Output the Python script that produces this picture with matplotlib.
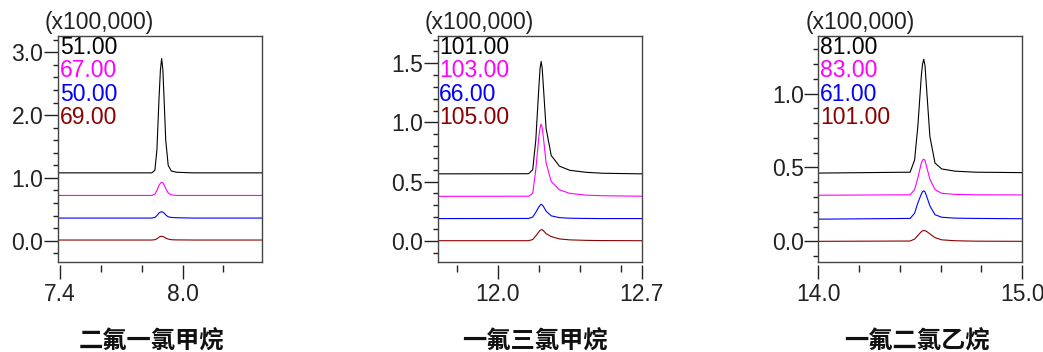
import numpy as np
import matplotlib
matplotlib.use("Agg")
import matplotlib.pyplot as plt
from matplotlib.ticker import FixedLocator, FormatStrFormatter

plt.rcParams['font.family'] = ['Liberation Sans', 'Noto Sans CJK SC', 'DejaVu Sans']

# ---- data (intensity in units of 100,000) ----
titles = ['二氟一氯甲烷', '一氟三氯甲烷', '一氟二氯乙烷']
ion_labels = [['51.00', '67.00', '50.00', '69.00'],
              ['101.00', '103.00', '66.00', '105.00'],
              ['81.00', '83.00', '61.00', '101.00']]
colors = ['black', '#ff00ff', '#0000ff', '#8b0000']

# panel 1
t1 = [7.39, 7.85, 7.865, 7.875, 7.885, 7.892, 7.898, 7.904, 7.910, 7.918, 7.93, 7.945, 7.97, 8.05, 8.39]
p1_black = [1.08, 1.08, 1.12, 1.45, 2.25, 2.72, 2.90, 2.72, 2.25, 1.60, 1.20, 1.11, 1.09, 1.08, 1.08]
p1_magenta = [0.72, 0.72, 0.74, 0.80, 0.88, 0.915, 0.93, 0.92, 0.89, 0.83, 0.76, 0.73, 0.72, 0.72, 0.72]
p1_blue = [0.36, 0.36, 0.37, 0.40, 0.44, 0.455, 0.46, 0.455, 0.44, 0.41, 0.38, 0.37, 0.365, 0.36, 0.36]
p1_red = [0.01, 0.01, 0.015, 0.03, 0.055, 0.066, 0.07, 0.066, 0.058, 0.04, 0.025, 0.015, 0.012, 0.01, 0.01]

# panel 2
t2 = [11.70, 12.15, 12.17, 12.185, 12.20, 12.206, 12.211, 12.216, 12.222, 12.235, 12.26, 12.30, 12.35, 12.43, 12.51, 12.70]
p2_black = [0.565, 0.566, 0.60, 0.85, 1.30, 1.46, 1.515, 1.46, 1.30, 0.95, 0.72, 0.63, 0.595, 0.578, 0.570, 0.565]
p2_magenta = [0.375, 0.376, 0.40, 0.60, 0.88, 0.955, 0.985, 0.955, 0.87, 0.66, 0.50, 0.43, 0.40, 0.385, 0.38, 0.376]
p2_blue = [0.187, 0.188, 0.20, 0.24, 0.285, 0.30, 0.307, 0.302, 0.29, 0.25, 0.21, 0.195, 0.19, 0.188, 0.187, 0.187]
p2_red = [0.0, 0.0, 0.01, 0.04, 0.075, 0.087, 0.093, 0.093, 0.085, 0.06, 0.035, 0.015, 0.007, 0.003, 0.001, 0.0]

# panel 3
t3 = [14.0, 14.45, 14.472, 14.488, 14.505, 14.511, 14.517, 14.523, 14.53, 14.547, 14.572, 14.605, 14.67, 14.77, 15.0]
p3_black = [0.462, 0.468, 0.55, 0.78, 1.12, 1.20, 1.232, 1.19, 1.05, 0.71, 0.53, 0.49, 0.475, 0.468, 0.465]
p3_magenta = [0.312, 0.315, 0.35, 0.43, 0.53, 0.55, 0.556, 0.548, 0.51, 0.42, 0.35, 0.325, 0.318, 0.315, 0.314]
p3_blue = [0.150, 0.155, 0.19, 0.26, 0.32, 0.336, 0.342, 0.335, 0.31, 0.24, 0.18, 0.163, 0.157, 0.155, 0.153]
p3_red = [0.0, 0.002, 0.015, 0.04, 0.065, 0.071, 0.073, 0.072, 0.068, 0.05, 0.025, 0.01, 0.004, 0.001, 0.0]

times = [t1, t2, t3]
traces = [[p1_black, p1_magenta, p1_blue, p1_red],
          [p2_black, p2_magenta, p2_blue, p2_red],
          [p3_black, p3_magenta, p3_blue, p3_red]]

xlims = [(7.392, 8.388), (11.708, 12.70), (14.0, 15.0)]
ylims = [(-0.34, 3.26), (-0.18, 1.73), (-0.14, 1.39)]
x_major = [[7.4, 8.0], [12.0, 12.7], [14.0, 15.0]]
x_minor = [[7.6, 7.8, 8.2], [11.8, 12.2, 12.4, 12.6], [14.2, 14.4, 14.6, 14.8]]
y_major = [[0, 1, 2, 3], [0, 0.5, 1.0, 1.5], [0, 0.5, 1.0]]
y_step = [0.2, 0.1, 0.1]

W, H = 1043, 352
lefts = [58, 437.7, 818.3]
box_top, box_bot, box_w = 36, 262, 204
title_x = [151, 535, 917]

fig = plt.figure(figsize=(W / 100, H / 100), dpi=100)
tick_col = '#222222'
fs = 16.5

for i in range(3):
    ax = fig.add_axes([lefts[i] / W, 1 - box_bot / H, box_w / W, (box_bot - box_top) / H])
    for y, c in zip(traces[i], colors):
        ax.plot(times[i], y, color=c, lw=0.8)

    ax.set_xlim(*xlims[i])
    ax.set_ylim(*ylims[i])

    for s in ax.spines.values():
        s.set_color('#444444')
        s.set_linewidth(1.0)
    # x ticks sit a little below the frame
    ax.spines['bottom'].set_position(('outward', 2))
    ax.spines['bottom'].set_visible(False)
    ax.plot([0, 1], [0, 0], transform=ax.transAxes, color='#444444', lw=1.0, clip_on=False)

    ax.xaxis.set_major_locator(FixedLocator(x_major[i]))
    ax.xaxis.set_minor_locator(FixedLocator(x_minor[i]))
    ax.xaxis.set_major_formatter(FormatStrFormatter('%.1f'))
    lo, hi = ylims[i]
    st = y_step[i]
    ymin_t = np.ceil(lo / st) * st
    ax.yaxis.set_major_locator(FixedLocator(y_major[i]))
    ax.yaxis.set_minor_locator(FixedLocator(np.arange(ymin_t, hi, st)))
    ax.yaxis.set_major_formatter(FormatStrFormatter('%.1f'))

    ax.tick_params(axis='x', which='major', length=10, width=1, color=tick_col,
                   labelsize=fs, labelcolor=tick_col, pad=3)
    ax.tick_params(axis='x', which='minor', length=5, width=1, color=tick_col)
    ax.tick_params(axis='y', which='major', length=10, width=1, color=tick_col,
                   labelsize=fs, labelcolor=tick_col, pad=0.5)
    ax.tick_params(axis='y', which='minor', length=3.5, width=1, color=tick_col)

    ax.annotate('(x100,000)', xy=(0, 1), xycoords='axes fraction',
                xytext=(-13 * 0.72, 13 * 0.72), textcoords='offset points',
                ha='left', va='center', fontsize=fs, color=tick_col)

    for k, (lab, c) in enumerate(zip(ion_labels[i], colors)):
        ax.text(0.008, 0.951 - k * 0.104, lab, transform=ax.transAxes,
                ha='left', va='center', fontsize=fs, color=c)

    fig.text(title_x[i] / W, 1 - 342 / H, titles[i], ha='center', va='center',
             fontsize=17.5, fontweight='bold', family=['Noto Sans CJK SC'], color='#111111')

fig.savefig('out.png', dpi=100)
